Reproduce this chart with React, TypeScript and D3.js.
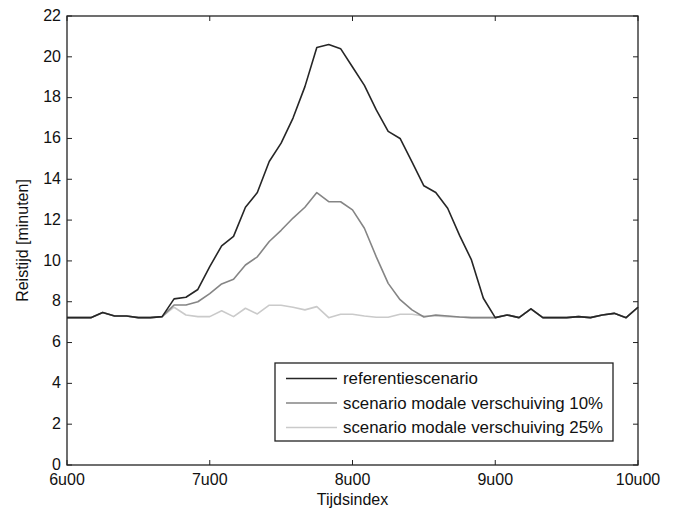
import React from "react";
import * as d3 from "d3";

// time index: 5-minute steps from 6u00 (0 min) to 10u00 (240 min)
const minutes: number[] = Array.from({ length: 49 }, (_, i) => i * 5);

const referentie: number[] = [
  7.22, 7.22, 7.22, 7.47, 7.3, 7.3, 7.22, 7.22, 7.27, 8.14,
  8.22, 8.6, 9.72, 10.74, 11.2, 12.63, 13.35, 14.87, 15.77, 17.0,
  18.54, 20.46, 20.6, 20.4, 19.5, 18.6, 17.4, 16.35, 16.0, 14.85,
  13.68, 13.35, 12.58, 11.25, 10.05, 8.17, 7.22, 7.35, 7.22, 7.65,
  7.22, 7.22, 7.22, 7.27, 7.22, 7.35, 7.43, 7.22, 7.73,
];

const verschuiving10: number[] = [
  7.22, 7.22, 7.22, 7.47, 7.3, 7.3, 7.22, 7.22, 7.27, 7.84,
  7.84, 8.0, 8.4, 8.87, 9.1, 9.8, 10.2, 10.95, 11.5, 12.1,
  12.63, 13.35, 12.9, 12.9, 12.5, 11.6, 10.2, 8.9, 8.1, 7.6,
  7.25, 7.35, 7.3, 7.25, 7.22, 7.22, 7.22, 7.35, 7.22, 7.65,
  7.22, 7.22, 7.22, 7.27, 7.22, 7.35, 7.43, 7.22, 7.73,
];

const verschuiving25: number[] = [
  7.22, 7.22, 7.22, 7.47, 7.3, 7.3, 7.22, 7.22, 7.27, 7.73,
  7.35, 7.27, 7.27, 7.56, 7.27, 7.68, 7.4, 7.83, 7.83, 7.73,
  7.6, 7.76, 7.22, 7.39, 7.39, 7.3, 7.24, 7.24, 7.39, 7.39,
  7.3, 7.3, 7.27, 7.25, 7.22, 7.22, 7.22, 7.35, 7.22, 7.65,
  7.22, 7.22, 7.22, 7.27, 7.22, 7.35, 7.43, 7.22, 7.73,
];

const seriesNames: string[] = [
  "referentiescenario",
  "scenario modale verschuiving 10%",
  "scenario modale verschuiving 25%",
];
const seriesColors: string[] = ["#262626", "#858585", "#cacaca"];

const xTickValues: number[] = [0, 60, 120, 180, 240];
const xTickLabels: string[] = ["6u00", "7u00", "8u00", "9u00", "10u00"];
const yTickValues: number[] = [0, 2, 4, 6, 8, 10, 12, 14, 16, 18, 20, 22];

const W = 674;
const H = 510;
const M = { left: 67, top: 16, right: 36, bottom: 45 };

export default function App() {
  const x = d3.scaleLinear().domain([0, 240]).range([M.left, W - M.right]);
  const y = d3.scaleLinear().domain([0, 22]).range([H - M.bottom, M.top]);
  const line = d3
    .line<number>()
    .x((_, i) => x(minutes[i]))
    .y((d) => y(d));

  const all = [referentie, verschuiving10, verschuiving25];
  const drawOrder = [2, 1, 0];
  const font = "'Liberation Sans', Arial, Helvetica, sans-serif";
  const tick = 5;
  const x0 = M.left;
  const x1 = W - M.right;
  const y0 = H - M.bottom;
  const y1 = M.top;

  const lg = { x: 275, y: 363, w: 338, h: 78 };
  const rowY = [378.5, 403, 427.5];
  const labelLens = [135, 260, 260];

  return (
    <svg
      width={W}
      height={H}
      style={{ position: "absolute", left: 0, top: 0, background: "#fff" }}
      fontFamily={font}
    >
      <rect x={0} y={0} width={W} height={H} fill="#fff" />
      {/* series */}
      {drawOrder.map((k) => (
        <path
          key={k}
          d={line(all[k]) || ""}
          fill="none"
          stroke={seriesColors[k]}
          strokeWidth={1.6}
          strokeLinejoin="round"
        />
      ))}
      {/* axes box */}
      <rect
        x={x0}
        y={y1}
        width={x1 - x0}
        height={y0 - y1}
        fill="none"
        stroke="#222"
        strokeWidth={1.3}
      />
      {yTickValues.map((v) => (
        <g key={"y" + v}>
          <line x1={x0} x2={x0 + tick} y1={y(v)} y2={y(v)} stroke="#222" strokeWidth={1} />
          <line x1={x1} x2={x1 - tick} y1={y(v)} y2={y(v)} stroke="#222" strokeWidth={1} />
          <text
            x={x0 - 6}
            y={y(v) - 1}
            dy="0.36em"
            textAnchor="end"
            fontSize={16}
            fill="#111"
          >
            {v}
          </text>
        </g>
      ))}
      {xTickValues.map((v, i) => (
        <g key={"x" + v}>
          <line x1={x(v)} x2={x(v)} y1={y0} y2={y0 - tick} stroke="#222" strokeWidth={1} />
          <line x1={x(v)} x2={x(v)} y1={y1} y2={y1 + tick} stroke="#222" strokeWidth={1} />
          <text x={x(v)} y={y0 + 20} textAnchor="middle" fontSize={16} fill="#111">
            {xTickLabels[i]}
          </text>
        </g>
      ))}
      <text x={(x0 + x1) / 2} y={H - 5} textAnchor="middle" fontSize={16} fill="#111">
        Tijdsindex
      </text>
      <text
        transform={`translate(${28}, ${(y0 + y1) / 2}) rotate(-90)`}
        textAnchor="middle"
        fontSize={16}
        fill="#111"
      >
        Reistijd [minuten]
      </text>
      {/* legend */}
      <rect
        x={lg.x}
        y={lg.y}
        width={lg.w}
        height={lg.h}
        fill="#fff"
        stroke="#222"
        strokeWidth={1.3}
      />
      {seriesNames.map((n, i) => (
        <g key={n}>
          <line
            x1={286}
            x2={337}
            y1={rowY[i]}
            y2={rowY[i]}
            stroke={seriesColors[i]}
            strokeWidth={1.6}
          />
          <text
            x={343}
            y={rowY[i]}
            dy="0.36em"
            fontSize={16}
            fill="#111"
            textLength={labelLens[i]}
            lengthAdjust="spacingAndGlyphs"
          >
            {n}
          </text>
        </g>
      ))}
    </svg>
  );
}
